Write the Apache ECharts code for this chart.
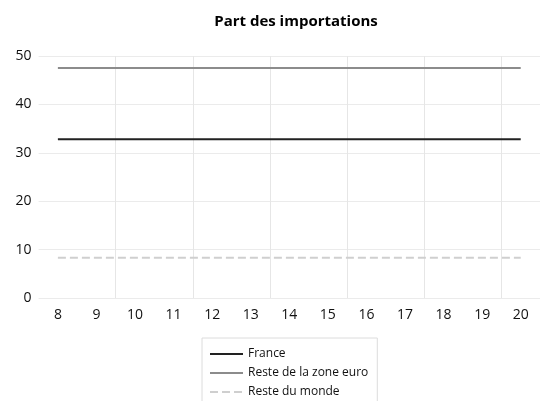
<!DOCTYPE html>
<html>
<head>
<meta charset="utf-8">
<script src="https://cdn.jsdelivr.net/npm/echarts@6/dist/echarts.min.js"></script>
<style>html,body{margin:0;padding:0;background:#fff}#c{width:540px;height:401px}</style>
</head>
<body>
<div id="c"></div>
<script>
const categories = ['8','9','10','11','12','13','14','15','16','17','18','19','20'];
const france = [32.8,32.8,32.8,32.8,32.8,32.8,32.8,32.8,32.8,32.8,32.8,32.8,32.8];
const resteZoneEuro = [47.5,47.5,47.5,47.5,47.5,47.5,47.5,47.5,47.5,47.5,47.5,47.5,47.5];
const resteMonde = [8.3,8.3,8.3,8.3,8.3,8.3,8.3,8.3,8.3,8.3,8.3,8.3,8.3];
const seriesNames = ['France','Reste de la zone euro','Reste du monde'];

const font = '"Open Sans", "Noto Sans", sans-serif';
const chart = echarts.init(document.getElementById('c'), null, {renderer:'canvas'});
chart.setOption({
  animation: false,
  title: {
    text: 'Part des importations',
    left: 291, top: 9, textAlign: 'center',
    textStyle: {fontFamily: font, fontSize: 15, fontWeight: 'bold', color: '#000'}
  },
  legend: {
    orient: 'vertical', left: 202, top: 338, height: 120,
    data: seriesNames,
    itemWidth: 33, itemHeight: 12, itemGap: 7,
    padding: [10, 9, 8, 7],
    borderColor: '#dcdcdc', borderWidth: 1,
    itemStyle: {opacity: 0},
    textStyle: {fontFamily: font, fontSize: 12, color: '#111'}
  },
  grid: {left: 38.6, width: 505.7, top: 56, bottom: 103, containLabel: false},
  xAxis: {
    type: 'category', data: categories, boundaryGap: true,
    axisLine: {show: false}, axisTick: {show: false},
    axisLabel: {fontFamily: font, fontSize: 14, color: '#111', margin: 10, interval: 0},
    splitLine: {show: true, interval: function(i){ return i > 0 && i % 2 === 0; }, lineStyle: {color: '#e6e6e6', width: 1}}
  },
  yAxis: {
    type: 'value', min: 0, max: 50, interval: 10,
    axisLine: {show: false}, axisTick: {show: false},
    axisLabel: {fontFamily: font, fontSize: 14, color: '#111', margin: 7},
    splitLine: {lineStyle: {color: '#ebebeb', width: 1}}
  },
  series: [
    {name: seriesNames[0], type: 'line', data: france, symbol: 'none', lineStyle: {color: '#222', width: 2}, itemStyle: {color: '#222'}},
    {name: seriesNames[1], type: 'line', data: resteZoneEuro, symbol: 'none', lineStyle: {color: '#8c8c8c', width: 2}, itemStyle: {color: '#8c8c8c'}},
    {name: seriesNames[2], type: 'line', data: resteMonde, symbol: 'none', lineStyle: {color: '#cfcfcf', width: 2, type: [8, 4]}, itemStyle: {color: '#cfcfcf'}}
  ]
});
</script>
</body>
</html>
